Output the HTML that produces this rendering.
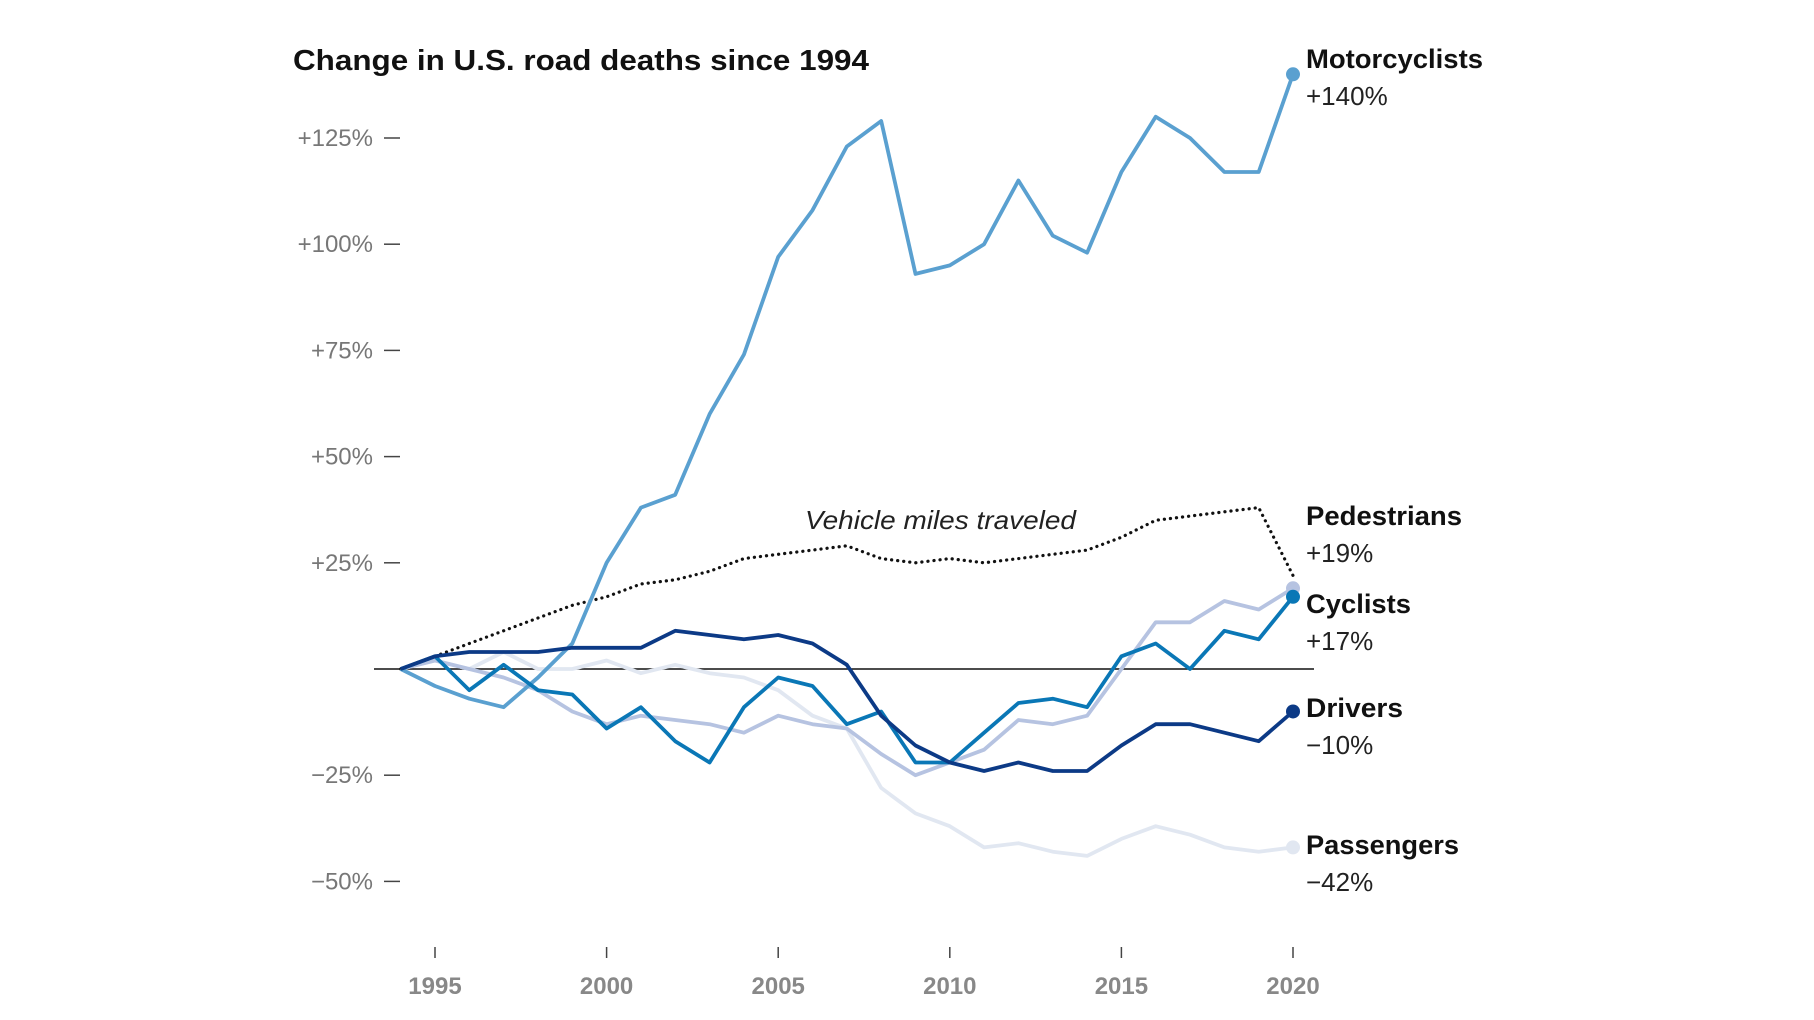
<!DOCTYPE html>
<html><head><meta charset="utf-8"><style>
html,body{margin:0;padding:0;background:#fff;}
svg{display:block;font-family:"Liberation Sans",sans-serif;}
</style></head><body>
<svg id="chart" width="1814" height="1020" viewBox="0 0 1814 1020">
<text x="293" y="70" font-size="29" font-weight="bold" fill="#111" textLength="576" lengthAdjust="spacingAndGlyphs">Change in U.S. road deaths since 1994</text>
<g id="yaxis"></g>
<g id="xaxis"></g>
<line x1="374" x2="1314" y1="669" y2="669" stroke="#111" stroke-width="1.6"/>
<g id="series"></g>
<text x="805" y="529" font-size="26" font-style="italic" fill="#222" textLength="271" lengthAdjust="spacingAndGlyphs">Vehicle miles traveled</text>
<g id="labels"></g>
</svg>
<script>
const years = [1994,1995,1996,1997,1998,1999,2000,2001,2002,2003,2004,2005,2006,2007,2008,2009,2010,2011,2012,2013,2014,2015,2016,2017,2018,2019,2020];
const passengers = [0,2,0,4,0,0,2,-1,1,-1,-2,-5,-11,-14,-28,-34,-37,-42,-41,-43,-44,-40,-37,-39,-42,-43,-42];
const pedestrians = [0,2,0,-2,-5,-10,-13,-11,-12,-13,-15,-11,-13,-14,-20,-25,-22,-19,-12,-13,-11,0,11,11,16,14,19];
const motorcyclists = [0,-4,-7,-9,-2,6,25,38,41,60,74,97,108,123,129,93,95,100,115,102,98,117,130,125,117,117,140];
const cyclists = [0,3,-5,1,-5,-6,-14,-9,-17,-22,-9,-2,-4,-13,-10,-22,-22,-15,-8,-7,-9,3,6,0,9,7,17];
const drivers = [0,3,4,4,4,5,5,5,9,8,7,8,6,1,-11,-18,-22,-24,-22,-24,-24,-18,-13,-13,-15,-17,-10];
const vmt = [0,3,6,9,12,15,17,20,21,23,26,27,28,29,26,25,26,25,26,27,28,31,35,36,37,38,22];
const yTicks = [125,100,75,50,25,-25,-50];
const yTickLabels = ["+125%","+100%","+75%","+50%","+25%","\u221225%","\u221250%"];
const xTicks = [1995,2000,2005,2010,2015,2020];
const seriesNames = ["Passengers","Pedestrians","Motorcyclists","Cyclists","Drivers"];
const seriesValueLabels = ["\u221242%","+19%","+140%","+17%","\u221210%"];

const NS="http://www.w3.org/2000/svg";
const x = yr => 435 + (yr-1995)*34.32;
const y = v => 669 - v*4.248;
function mk(tag, attrs, parent){const e=document.createElementNS(NS,tag);for(const k in attrs)e.setAttribute(k,attrs[k]);parent.appendChild(e);return e;}

const ya=document.getElementById('yaxis');
yTicks.forEach((t,i)=>{
  const l=mk('line',{x1:384,x2:400,y1:y(t),y2:y(t),stroke:'#444','stroke-width':1.5},ya);
  
  
  const tx=mk('text',{x:373,y:y(t)+8,'font-size':24,fill:'#777','text-anchor':'end'},ya);
  tx.textContent=yTickLabels[i];
  
  
});
const xa=document.getElementById('xaxis');
xTicks.forEach(t=>{
  const l=mk('line',{x1:x(t),x2:x(t),y1:947,y2:958,stroke:'#444','stroke-width':1.5},xa);
  
  
  const tx=mk('text',{x:x(t),y:994,'font-size':24,'font-weight':'bold',fill:'#888','text-anchor':'middle'},xa);
  tx.textContent=t;
  
  
});

const sg=document.getElementById('series');
const pts = arr => arr.map((v,i)=>x(years[i]).toFixed(1)+','+y(v).toFixed(1)).join(' ');
const vl=mk('polyline',{points:pts(vmt),fill:'none',stroke:'#111','stroke-width':3.2,'stroke-dasharray':'0.1 6','stroke-linecap':'round'},sg);


const data=[passengers,pedestrians,motorcyclists,cyclists,drivers];
const colors=['#e1e7f1','#b6c3e1','#5aa0d0','#0a77b6','#0c3a86'];
data.forEach((arr,i)=>{
  const p=mk('polyline',{points:pts(arr),fill:'none',stroke:colors[i],'stroke-width':3.8,'stroke-linejoin':'round'},sg);
  
  
  const last=arr[arr.length-1];
  const c=mk('circle',{cx:x(years[years.length-1]),cy:y(last),r:7,fill:colors[i]},sg);
  
  
});

const lg=document.getElementById('labels');
const nameY=[845,516,59,604,708];
const nameW=[153,156,177,105,97];
nameY.forEach((ny,i)=>{
  const t=mk('text',{x:1306,y:ny+9,'font-size':27,'font-weight':'bold',fill:'#111',textLength:nameW[i],lengthAdjust:'spacingAndGlyphs'},lg);
  t.textContent=seriesNames[i];
  
  
  const v=mk('text',{x:1306,y:ny+46,'font-size':26,fill:'#222'},lg);
  v.textContent=seriesValueLabels[i];
  
  
});
</script>
</body></html>
